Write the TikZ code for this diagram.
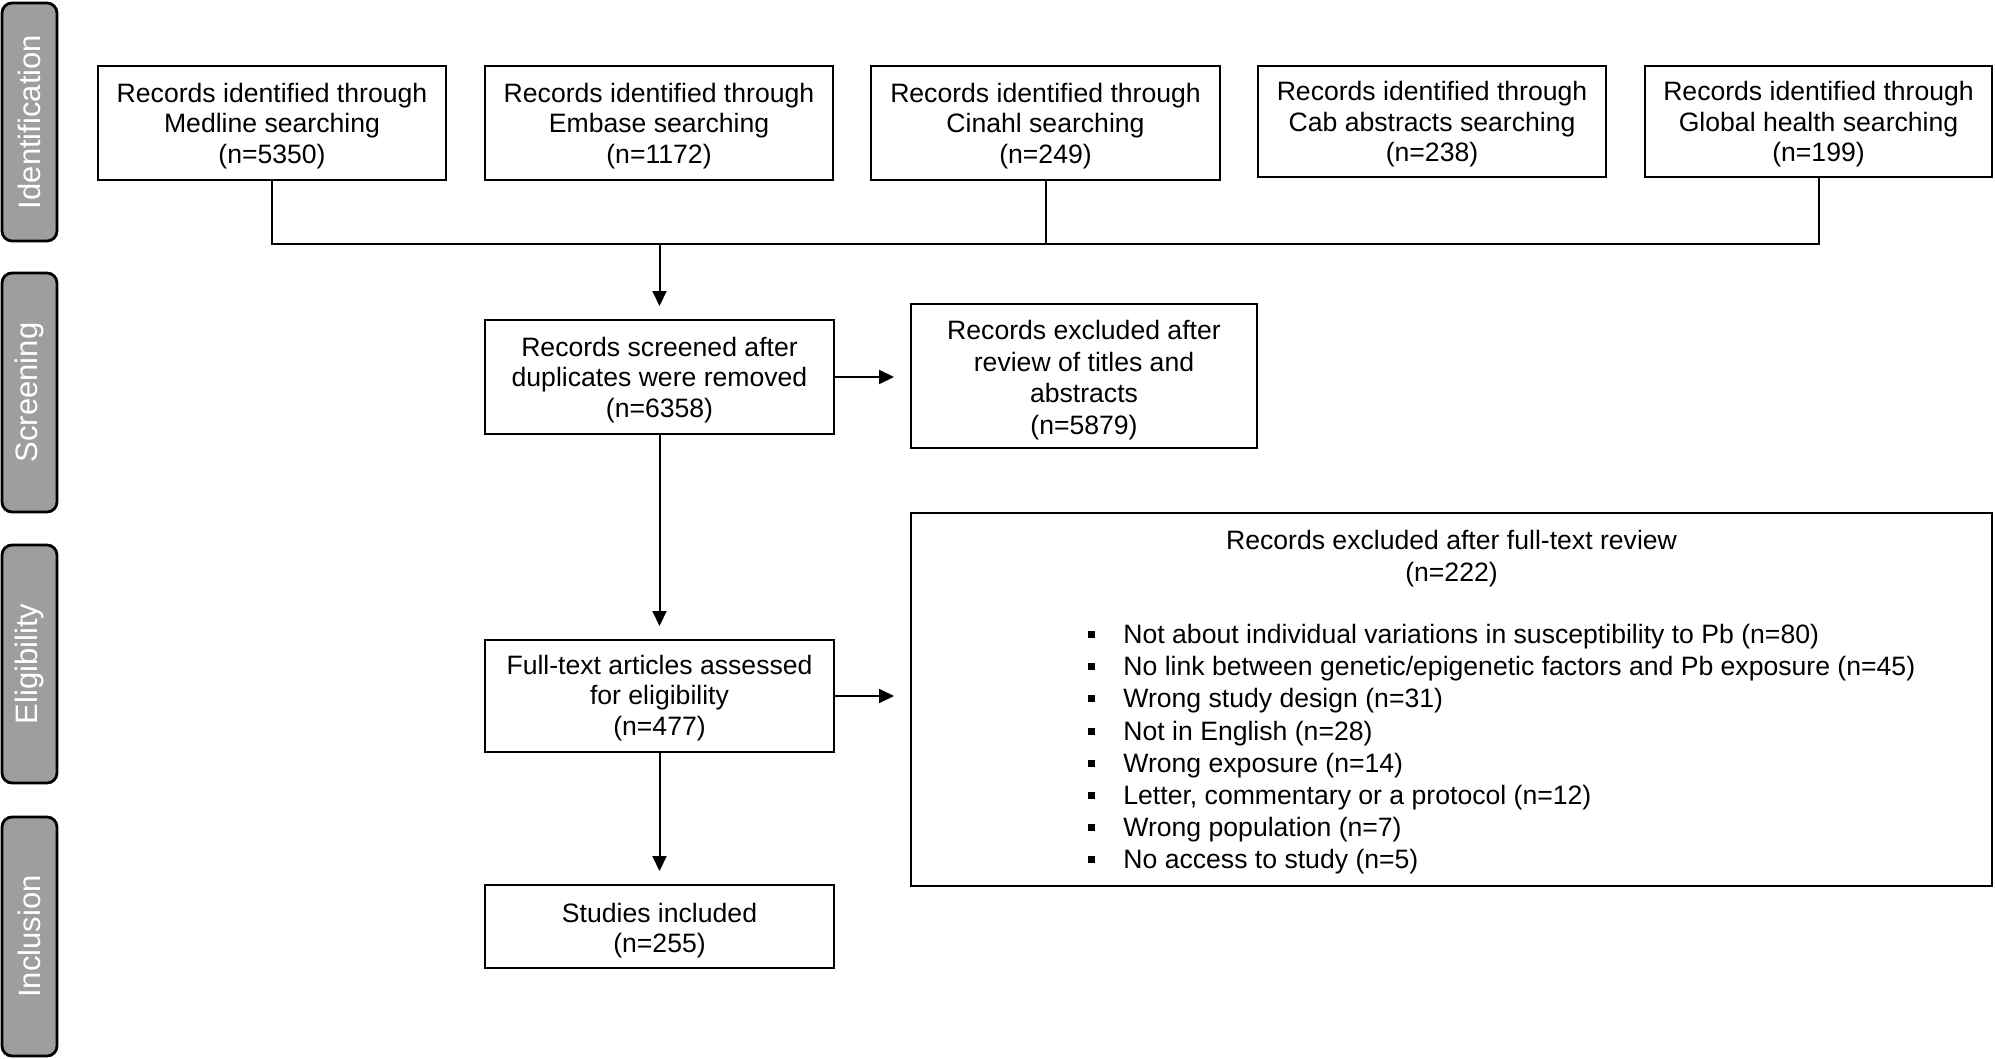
\documentclass[tikz,border=0pt]{standalone}
\usepackage{fontspec}
\setmainfont{Liberation Sans}
\usetikzlibrary{arrows.meta}
\definecolor{phasegray}{RGB}{158,158,158}
\newcommand\sqbul{\rule[2.75pt]{3.5pt}{3.5pt}\hspace{14pt}}
\newcommand\tpad[1]{\rule{0pt}{#1}}
\begin{document}
\begin{tikzpicture}[x=0.5pt,y=-0.5pt,
  box/.style={draw=black, line width=1pt, align=center, inner sep=0pt,
    font=\fontsize{13.3}{15.3}\selectfont},
  phase/.style={draw=black, line width=1.4pt, fill=phasegray, rounded corners=5pt,
    minimum height=27.5pt, inner sep=0pt, text=white, rotate=90,
    font=\fontsize{15.5}{18}\selectfont},
  txt/.style={inner sep=0pt, font=\fontsize{13.3}{16}\selectfont},
  conn/.style={line width=1pt},
  arr/.style={conn, -{Triangle[length=7.5pt,width=7pt]}, shorten >=6.5pt},
  arrh/.style={conn, -{Triangle[length=7.5pt,width=7pt]}, shorten >=8pt}]
\useasboundingbox (0,0) rectangle (1995,1059);

% phase labels
\node[phase, minimum width=119pt] (pid) at (29.5,122) {Identification};
\node[phase, minimum width=119.5pt] (psc) at (29.5,392.5) {Screening};
\node[phase, minimum width=119pt] (pel) at (29.5,664) {Eligibility};
\node[phase, minimum width=119.5pt] (pin) at (29.5,936.5) {Inclusion};

% identification boxes
\node[box, minimum width=174pt, minimum height=57pt] (b1) at (272,123)
  {\tpad{12.4pt}Records identified through\\Medline searching\\(n=5350)};
\node[box, minimum width=174pt, minimum height=57pt] (b2) at (659,123)
  {\tpad{12.4pt}Records identified through\\Embase searching\\(n=1172)};
\node[box, minimum width=174.5pt, minimum height=57pt] (b3) at (1045.5,123)
  {\tpad{12.4pt}Records identified through\\Cinahl searching\\(n=249)};
\node[box, minimum width=174pt, minimum height=55.5pt] (b4) at (1432,121.5)
  {\tpad{12.4pt}Records identified through\\Cab abstracts searching\\(n=238)};
\node[box, minimum width=173.5pt, minimum height=55.5pt] (b5) at (1818.5,121.5)
  {\tpad{12.4pt}Records identified through\\Global health searching\\(n=199)};

% screening
\node[box, minimum width=174.5pt, minimum height=57pt] (scr) at (659.5,377)
  {\tpad{12.4pt}Records screened after\\duplicates were removed\\(n=6358)};
\node[box, minimum width=173pt, minimum height=72pt,
  font=\fontsize{13.3}{15.9}\selectfont] (ex1) at (1084,376)
  {\tpad{13.8pt}Records excluded after\\review of titles and\\abstracts\\(n=5879)};

% eligibility
\node[box, minimum width=174.5pt, minimum height=56pt] (ft) at (659.5,696)
  {\tpad{11.5pt}Full-text articles assessed\\for eligibility\\(n=477)};
\node[box, minimum width=540.5pt, minimum height=186.5pt] (ex2) at (1451.5,699.5) {};
\node[txt, anchor=base] (ex2t) at (1451.5,549) {Records excluded after full-text review};
\node[txt, anchor=base] (ex2n) at (1451.5,581) {(n=222)};
\foreach \t [count=\i] in {
  {Not about individual variations in susceptibility to Pb (n=80)},
  {No link between genetic/epigenetic factors and Pb exposure (n=45)},
  {Wrong study design (n=31)},
  {Not in English (n=28)},
  {Wrong exposure (n=14)},
  {Letter, commentary or a protocol (n=12)},
  {Wrong population (n=7)},
  {No access to study (n=5)}}
  \node[txt, anchor=base west] (it\i) at (1088,{643.5+32.2*(\i-1)}) {\sqbul\t};

% inclusion
\node[box, minimum width=174.5pt, minimum height=41.5pt] (st) at (659.5,926.5)
  {\tpad{13.8pt}Studies included\\(n=255)};

% connectors
\coordinate (hl) at (272,244);
\draw[conn] (b1.south) -- (b1.south |- hl) -- (b5.south |- hl) -- (b5.south);
\draw[conn] (b3.south) -- (b3.south |- hl);
\draw[arr] (scr.north |- hl) -- (scr.north);
\draw[arrh] (scr.east) -- (scr.east -| ex1.west);
\draw[arr] (scr.south) -- (ft.north);
\draw[arrh] (ft.east) -- (ft.east -| ex2.west);
\draw[arr] (ft.south) -- (st.north);
\end{tikzpicture}
\end{document}
